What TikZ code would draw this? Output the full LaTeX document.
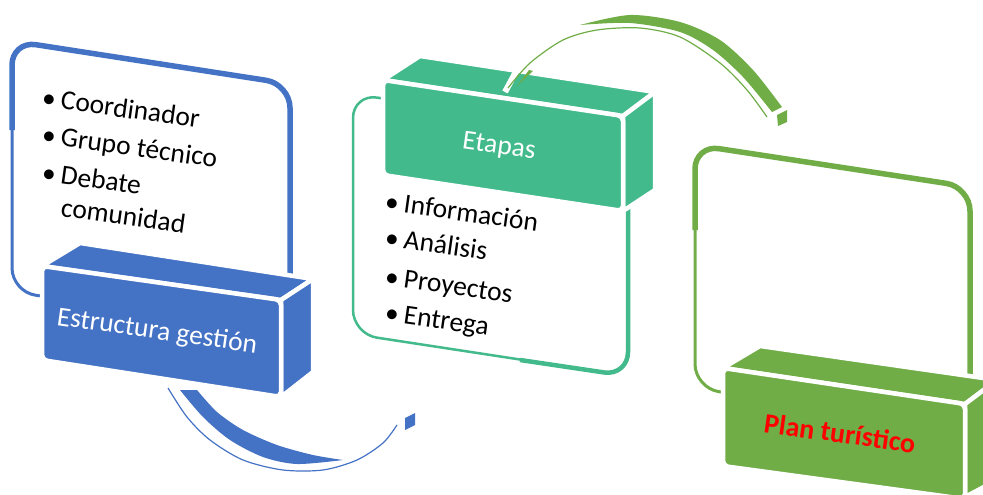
\documentclass[tikz,border=0pt]{standalone}
\usepackage{fontspec}
\setmainfont{Carlito}
\definecolor{myblue}{RGB}{68,114,196}
\definecolor{myteal}{RGB}{66,186,140}
\definecolor{mygreen}{RGB}{112,173,71}
\definecolor{myred}{RGB}{255,0,0}
\begin{document}
\begin{tikzpicture}[x=1pt,y=-1pt,
  panel/.style={fill=white, line width=3pt, rounded corners=24pt},
  rim/.style={line width=5.5pt, rounded corners=24pt},
  face/.style={draw=white, line width=4.5pt, line join=round},
  bul/.style={anchor=base west, rotate=-8, font=\fontsize{27.5}{32}\selectfont, inner sep=0pt, text=black},
  blocktext/.style={rotate=-8, font=\fontsize{27.5}{32}\selectfont, text=white, inner sep=0pt}]
\useasboundingbox (0,0) rectangle (983,495);
\clip (0,0) rectangle (983,495);

% ---------- panels ----------
\draw[panel, draw=myblue] (12,41) -- (290,84) -- (290,330) -- (12,292) -- cycle;
\draw[rim, draw=myblue] (12,130) -- (12,41) -- (290,84) -- (290,310);

\draw[panel, draw=myteal, line width=2.5pt] (353,94) -- (628,135) -- (628,376) -- (353,334) -- cycle;
\draw[draw=myteal, line width=4.5pt, rounded corners=24pt] (628,160) -- (628,376) -- (520,360);

\draw[panel, draw=mygreen] (695,145) -- (970,187) -- (970,430) -- (695,388) -- cycle;
\draw[rim, draw=mygreen] (695,230) -- (695,145) -- (970,187) -- (970,390);

% ---------- blue arc ----------
\coordinate (b1s) at (168,388);
\coordinate (b1e) at (397,425);
\draw[myblue, line width=1.2pt] plot[smooth] coordinates {(b1s) (187,417) (210,440) (243,460) (283,470) (323,470) (357,460) (383,443) (b1e)};
\fill[myblue] plot[smooth] coordinates {(180,390) (203,417) (230,440) (263,457) (297,464) (343,460)}
  -- plot[smooth] coordinates {(343,460) (313,455) (277,445) (243,430) (217,412) (197,390)} -- cycle;
\fill[myblue] (405,418) -- (415,413) -- (415,425) -- (405,430) -- cycle;

% ---------- block 1 ----------
\fill[myblue, face] (42,266) -- (80,243) -- (313,279) -- (281,300) -- cycle;
\fill[myblue, face] (281,300) -- (313,279) -- (313,372) -- (281,397) -- cycle;
\fill[myblue, face, rounded corners=5pt] (42,266) -- (281,300) -- (281,397) -- (42,360) -- cycle;

% ---------- block 2 ----------
\fill[myteal, face] (383,80) -- (420,56) -- (655,92) -- (623,116) -- cycle;
\fill[myteal, face] (623,116) -- (655,92) -- (655,190) -- (623,211) -- cycle;
\fill[myteal, face, rounded corners=5pt] (383,80) -- (623,116) -- (623,211) -- (383,175) -- cycle;

% ---------- green arc ----------
\coordinate (g1s) at (508,88);
\coordinate (g1e) at (767,117);
\draw[white, line width=6pt] (505,92) -- (518,68);
\draw[mygreen, line width=1.2pt] plot[smooth] coordinates {(g1s) (530,63) (563,40) (597,30) (640,28) (680,37) (720,63) (747,90) (g1e)};
\fill[mygreen] (517,86) -- (533,71) -- (529,70) -- cycle;
\fill[mygreen] plot[smooth] coordinates {(580,25) (630,15) (680,22) (720,40) (753,70) (782,107)}
  -- (772,112) -- plot[smooth] coordinates {(772,112) (743,77) (713,50) (680,32) (630,23) (580,25)} -- cycle;
\fill[mygreen] (777,115) -- (787,110) -- (787,122) -- (778,126) -- cycle;

% ---------- block 3 ----------
\fill[mygreen, face] (723,368) -- (760,346) -- (997,380) -- (965,404) -- cycle;
\fill[mygreen, face] (965,404) -- (997,380) -- (997,480) -- (965,497) -- cycle;
\fill[mygreen, face, rounded corners=5pt] (723,368) -- (965,404) -- (965,499) -- (723,466) -- cycle;

% ---------- texts ----------
\node[bul] (c1) at (41,106) {\makebox[19pt][l]{•}Coordinador};
\node[bul] (c2) at (41,143) {\makebox[19pt][l]{•}Grupo técnico};
\node[bul] (c3) at (41,181) {\makebox[19pt][l]{•}Debate};
\node[bul] (c4) at (60,216) {comunidad};

\node[bul] (e1) at (384,210) {\makebox[19pt][l]{•}Información};
\node[bul] (e2) at (384,246) {\makebox[19pt][l]{•}Análisis};
\node[bul] (e3) at (384,285) {\makebox[19pt][l]{•}Proyectos};
\node[bul] (e4) at (384,321) {\makebox[19pt][l]{•}Entrega};

\node[blocktext] (t1) at (157,332) {Estructura gestión};
\node[blocktext] (t2) at (499,147) {Etapas};
\node[blocktext, text=myred, font=\fontsize{28}{32}\selectfont\bfseries] (t3) at (840,433) {Plan turístico};
\end{tikzpicture}
\end{document}
